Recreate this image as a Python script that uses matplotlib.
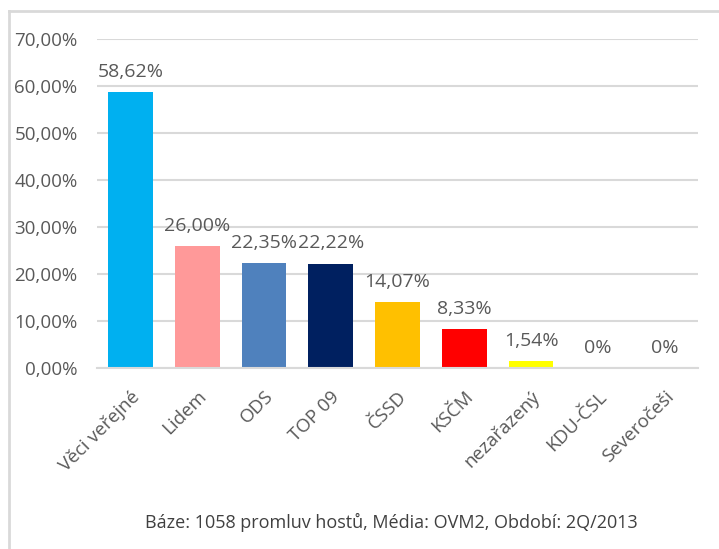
import matplotlib
matplotlib.use('Agg')
from matplotlib import pyplot as plt
from matplotlib.lines import Line2D
from matplotlib.transforms import ScaledTranslation

parties = ['Věci veřejné', 'Lidem', 'ODS', 'TOP 09', 'ČSSD', 'KSČM',
           'nezařazený', 'KDU-ČSL', 'Severočeši']
shares = [58.62, 26.00, 22.35, 22.22, 14.07, 8.33, 1.54, 0, 0]
labels = ['58,62%', '26,00%', '22,35%', '22,22%', '14,07%', '8,33%',
          '1,54%', '0%', '0%']
colors = ['#00B0F0', '#FF9999', '#4F81BD', '#002060', '#FFC000', '#FF0000',
          '#FFFF00', '#A5A5A5', '#A5A5A5']
yticks = [0, 10, 20, 30, 40, 50, 60, 70]
footer = 'Báze: 1058 promluv hostů, Média: OVM2, Období: 2Q/2013'

txt = '#595959'
grid = '#D9D9D9'
plt.rcParams['font.family'] = ['Open Sans', 'DejaVu Sans']

fig = plt.figure(figsize=(7.19, 5.49), dpi=100)
ax = fig.add_axes([97 / 719, 1 - 368 / 549, 601 / 719, 329 / 549])

x = range(len(parties))
ax.bar(x, shares, width=0.67, color=colors, zorder=2)
for i, (v, lab) in enumerate(zip(shares, labels)):
    ax.annotate(lab, (i, v), xytext=(0, 8), textcoords='offset points',
                ha='center', va='bottom', fontsize=14, color=txt)

ax.set_xlim(-0.5, len(parties) - 0.5)
ax.set_ylim(0, 70)
ax.set_yticks(yticks)
ax.set_yticklabels(['%d,00%%' % t for t in yticks], fontsize=13.5, color=txt)
ax.set_xticks(list(x))
ax.set_xticklabels(parties, rotation=45, ha='right', rotation_mode='anchor',
                   fontsize=13.5, color=txt)
# nudge rotated labels a bit left
for lab in ax.get_xticklabels():
    lab.set_transform(lab.get_transform() + ScaledTranslation(-4 / 72, 0, fig.dpi_scale_trans))
ax.tick_params(axis='both', length=0)
ax.tick_params(axis='y', pad=14)
ax.tick_params(axis='x', pad=14)
ax.yaxis.grid(True, color=grid, linewidth=1.5, zorder=0)
ax.set_axisbelow(True)
for s in ['top', 'right', 'left']:
    ax.spines[s].set_visible(False)
ax.spines['bottom'].set_color(grid)
ax.spines['bottom'].set_linewidth(1.5)

# chart border (cut off on right and bottom)
fig.add_artist(Line2D([9 / 719, 1], [1 - 11 / 549, 1 - 11 / 549],
                      color=grid, linewidth=2, transform=fig.transFigure))
fig.add_artist(Line2D([9 / 719, 9 / 719], [0, 1 - 11 / 549],
                      color=grid, linewidth=2, transform=fig.transFigure))

fig.text(391 / 719, 1 - 522 / 549, footer, ha='center', va='center',
         fontsize=13, color='#404040')

fig.savefig('out.png', dpi=100)
